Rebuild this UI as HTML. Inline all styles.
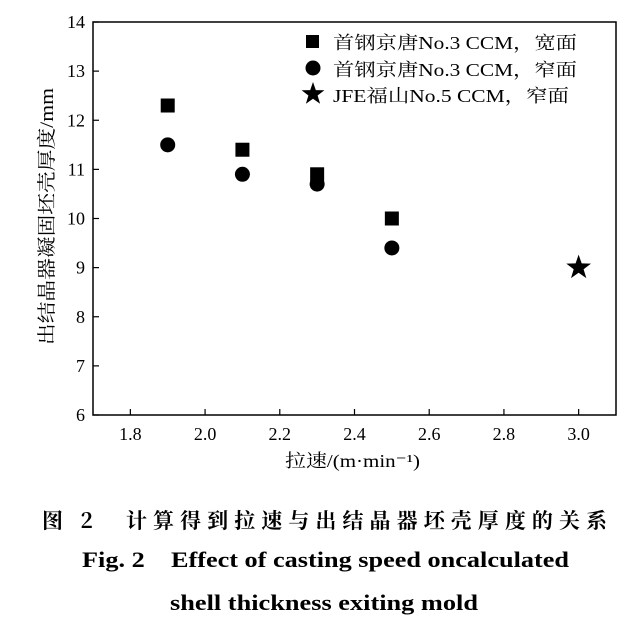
<!DOCTYPE html>
<html><head><meta charset="utf-8"><style>
body{margin:0;background:#fff;}
svg{display:block;font-family:"Liberation Serif","Noto Serif CJK SC",serif;}
</style></head><body>
<svg id="c" width="639" height="634" viewBox="0 0 639 634">
<g id="plot"></g>
<text x="42" y="528" textLength="565" lengthAdjust="spacing" font-size="21" font-weight="bold" font-family="'Noto Serif CJK SC',serif">图 2　计算得到拉速与出结晶器坯壳厚度的关系</text>
<text x="82" y="567" textLength="487" lengthAdjust="spacingAndGlyphs" font-size="22" font-weight="bold">Fig. 2　Effect of casting speed oncalculated</text>
<text x="170" y="610" textLength="308" lengthAdjust="spacingAndGlyphs" font-size="22" font-weight="bold">shell thickness exiting mold</text>
</svg>
<script>
const xTicks=[1.8,2.0,2.2,2.4,2.6,2.8,3.0];
const yTicks=[6,7,8,9,10,11,12,13,14];
const wideX=[1.9,2.1,2.3,2.5];
const wideY=[12.3,11.4,10.9,10.0];
const narrowX=[1.9,2.1,2.3,2.5];
const narrowY=[11.5,10.9,10.7,9.4];
const jfeX=[3.0];
const jfeY=[9.0];
const L=93,R=616,T=22,B=415;
const xs=v=>L+(v-1.7)/(3.1-1.7)*(R-L);
const ys=v=>B-(v-6)/(14-6)*(B-T);
const NS='http://www.w3.org/2000/svg';
const g=document.getElementById('plot');
function mk(tag,attrs,name,txt){const e=document.createElementNS(NS,tag);for(const k in attrs)e.setAttribute(k,attrs[k]);


if(txt!==undefined)e.textContent=txt;g.appendChild(e);return e;}
mk('rect',{x:L,y:T,width:R-L,height:B-T,fill:'none',stroke:'#000','stroke-width':1.5},'plot-frame');
xTicks.forEach(v=>{const x=xs(v);
mk('line',{x1:x,x2:x,y1:B,y2:B-6,stroke:'#000','stroke-width':1.2},'x-tick');
mk('text',{x:x,y:B+25,'text-anchor':'middle','font-size':18},'x-tick-label',v.toFixed(1));});
yTicks.forEach(v=>{const y=ys(v);
mk('line',{x1:L,x2:L+6,y1:y,y2:y,stroke:'#000','stroke-width':1.2},'y-tick');
mk('text',{x:L-8,y:y+6,'text-anchor':'end','font-size':18},'y-tick-label',String(v));});
mk('text',{x:285,y:467,'font-size':18,textLength:135,lengthAdjust:'spacingAndGlyphs'},'x-axis-title','拉速/(m·min⁻¹)');
mk('text',{x:0,y:0,'font-size':19,textLength:257,lengthAdjust:'spacingAndGlyphs',transform:'translate(53,345) rotate(-90)'},'y-axis-title','出结晶器凝固坯壳厚度/mm');
function star(cx,cy,r){let p=[];for(let i=0;i<10;i++){const a=-Math.PI/2+i*Math.PI/5;const rr=i%2?r*0.4:r;p.push((cx+rr*Math.cos(a)).toFixed(1)+','+(cy+rr*Math.sin(a)).toFixed(1));}return p.join(' ');}
wideX.forEach((v,i)=>mk('rect',{x:xs(v)-7,y:ys(wideY[i])-7,width:14,height:14,fill:'#000'},'point-wide-face'));
narrowX.forEach((v,i)=>mk('circle',{cx:xs(v),cy:ys(narrowY[i]),r:7.5,fill:'#000'},'point-narrow-face'));
jfeX.forEach((v,i)=>mk('polygon',{points:star(xs(v),ys(jfeY[i]),13),fill:'#000'},'point-jfe-narrow'));
mk('rect',{x:306,y:35,width:13,height:13,fill:'#000'},'legend-marker-wide');
mk('text',{x:333,y:49,'font-size':18,textLength:244,lengthAdjust:'spacingAndGlyphs'},'legend-label-wide','首钢京唐No.3 CCM，宽面');
mk('circle',{cx:313,cy:68,r:7.5,fill:'#000'},'legend-marker-narrow');
mk('text',{x:333,y:76,'font-size':18,textLength:244,lengthAdjust:'spacingAndGlyphs'},'legend-label-narrow','首钢京唐No.3 CCM，窄面');
mk('polygon',{points:star(313,94,12),fill:'#000'},'legend-marker-jfe');
mk('text',{x:333,y:102,'font-size':18,textLength:236,lengthAdjust:'spacingAndGlyphs'},'legend-label-jfe','JFE福山No.5 CCM，窄面');
</script>
</body></html>
